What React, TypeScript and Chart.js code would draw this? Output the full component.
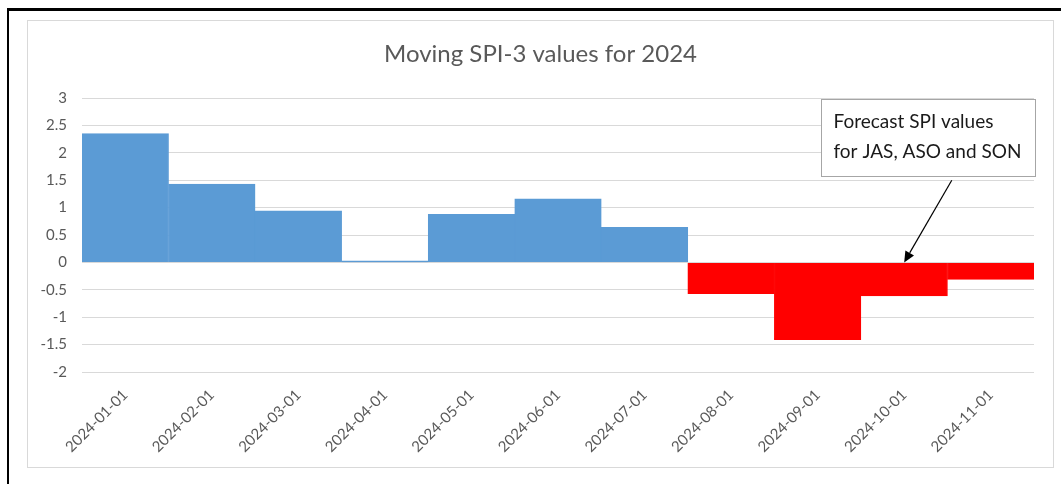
import React, { useEffect, useRef } from "react";
import { Chart, registerables } from "chart.js";

Chart.register(...registerables);

const categories = [
  "2024-01-01", "2024-02-01", "2024-03-01", "2024-04-01", "2024-05-01", "2024-06-01",
  "2024-07-01", "2024-08-01", "2024-09-01", "2024-10-01", "2024-11-01",
];
const observed = [2.35, 1.43, 0.94, 0.03, 0.875, 1.16, 0.64, null, null, null, null];
const forecast = [null, null, null, null, null, null, null, -0.57, -1.41, -0.61, -0.31];
const titleText = "Moving SPI-3 values for 2024";
const noteLines = ["Forecast SPI values", "for JAS, ASO and SON"];
// annotation anchors in data units (category index, SPI value)
const noteBox = { x0: 8.04, x1: 10.51, yTop: 2.99, yBottom: 1.58 };
const noteArrow = { fromX: 9.55, fromY: 1.5, toX: 9.0, toY: 0.0 };

const FONT = "Lato, 'Open Sans', sans-serif";

const overlayPlugin = {
  id: "overlay",
  afterDraw(chart: any) {
    const ctx = chart.ctx;
    const xs = chart.scales.x;
    const ys = chart.scales.y;
    ctx.save();
    // title
    ctx.fillStyle = "#595959";
    ctx.font = `24px ${FONT}`;
    ctx.textAlign = "center";
    ctx.textBaseline = "middle";
    ctx.fillText(titleText, chart.width / 2, 33);

    // annotation box
    const bx0 = Math.round(xs.getPixelForValue(noteBox.x0)) + 0.5;
    const bx1 = Math.round(xs.getPixelForValue(noteBox.x1)) + 0.5;
    const by0 = Math.round(ys.getPixelForValue(noteBox.yTop)) + 0.5;
    const by1 = Math.round(ys.getPixelForValue(noteBox.yBottom)) + 0.5;
    ctx.fillStyle = "#ffffff";
    ctx.fillRect(bx0, by0, bx1 - bx0, by1 - by0);
    ctx.strokeStyle = "#a6a6a6";
    ctx.lineWidth = 1;
    ctx.strokeRect(bx0, by0, bx1 - bx0, by1 - by0);
    ctx.fillStyle = "#1a1a1a";
    ctx.font = `19px ${FONT}`;
    ctx.textAlign = "left";
    ctx.textBaseline = "middle";
    ctx.fillText(noteLines[0], bx0 + 12, by0 + 22);
    ctx.fillText(noteLines[1], bx0 + 12, by0 + 52);

    // arrow
    const ax0 = xs.getPixelForValue(noteArrow.fromX);
    const ay0 = ys.getPixelForValue(noteArrow.fromY);
    const ax1 = xs.getPixelForValue(noteArrow.toX);
    const ay1 = ys.getPixelForValue(noteArrow.toY);
    const ang = Math.atan2(ay1 - ay0, ax1 - ax0);
    const headLen = 11;
    const headW = 5;
    const bxh = ax1 - headLen * Math.cos(ang);
    const byh = ay1 - headLen * Math.sin(ang);
    ctx.strokeStyle = "#000000";
    ctx.lineWidth = 1.2;
    ctx.beginPath();
    ctx.moveTo(ax0, ay0);
    ctx.lineTo(bxh, byh);
    ctx.stroke();
    ctx.fillStyle = "#000000";
    ctx.beginPath();
    ctx.moveTo(ax1, ay1);
    ctx.lineTo(bxh + headW * Math.sin(ang), byh - headW * Math.cos(ang));
    ctx.lineTo(bxh - headW * Math.sin(ang), byh + headW * Math.cos(ang));
    ctx.closePath();
    ctx.fill();
    ctx.restore();
  },
};

export default function App() {
  const ref = useRef<HTMLCanvasElement>(null);
  useEffect(() => {
    if (!ref.current) return;
    const chart = new Chart(ref.current, {
      type: "bar",
      data: {
        labels: categories,
        datasets: [
          {
            label: "Observed",
            data: observed as any,
            backgroundColor: "#5b9bd5",
            borderColor: "#5b9bd5",
            borderWidth: 1,
            barPercentage: 1,
            categoryPercentage: 1,
          },
          {
            label: "Forecast",
            data: forecast as any,
            backgroundColor: "#ff0000",
            borderColor: "#ff0000",
            borderWidth: 1,
            barPercentage: 1,
            categoryPercentage: 1,
          },
        ],
      },
      options: {
        responsive: false,
        animation: false,
        devicePixelRatio: 1,
        layout: { padding: { top: 77, right: 19, bottom: 0, left: 0 } },
        plugins: {
          legend: { display: false },
          title: { display: false },
          tooltip: { enabled: false },
        },
        scales: {
          x: {
            stacked: true,
            grid: { display: false, drawTicks: false },
            border: { display: false },
            ticks: {
              minRotation: 45,
              maxRotation: 45,
              autoSkip: false,
              padding: 14,
              color: "#595959",
              font: { family: FONT, size: 15 },
            },
            afterFit: (s: any) => {
              s.height = 95;
            },
          },
          y: {
            stacked: false,
            min: -2,
            max: 3,
            grid: { color: "#d9d9d9", lineWidth: 1, drawTicks: false },
            border: { display: false },
            ticks: {
              stepSize: 0.5,
              padding: 15,
              color: "#595959",
              font: { family: FONT, size: 15 },
              callback: (v: any) => String(v),
            },
            afterFit: (s: any) => {
              s.width = 54;
            },
          },
        },
      },
      plugins: [overlayPlugin],
    });
    return () => chart.destroy();
  }, []);

  return (
    <div
      style={{
        position: "fixed",
        left: 0,
        top: 0,
        width: 1061,
        height: 484,
        overflow: "hidden",
        background: "#ffffff",
      }}
    >
      <div
        style={{
          position: "absolute",
          left: 7,
          top: 8,
          width: 1200,
          height: 600,
          borderTop: "3px solid #000",
          borderLeft: "2px solid #000",
          boxSizing: "border-box",
        }}
      />
      <div
        style={{
          position: "absolute",
          left: 27,
          top: 20,
          width: 1027,
          height: 448,
          border: "1px solid #d9d9d9",
          boxSizing: "border-box",
        }}
      >
        <canvas ref={ref} width={1025} height={446} style={{ display: "block", width: 1025, height: 446 }} />
      </div>
    </div>
  );
}
